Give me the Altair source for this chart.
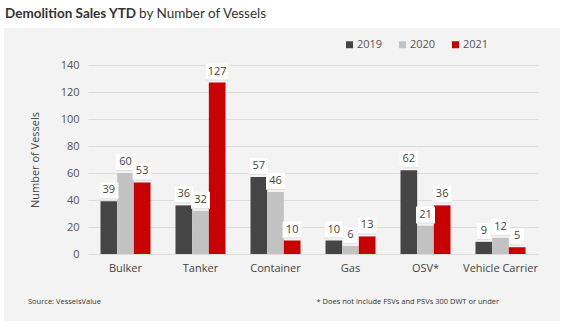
import altair as alt
import pandas as pd

categories = ["Bulker", "Tanker", "Container", "Gas", "OSV*", "Vehicle Carrier"]
years = ["2019", "2020", "2021"]
v2019 = [39, 36, 57, 10, 62, 9]
v2020 = [60, 32, 46, 6, 21, 12]
v2021 = [53, 127, 10, 13, 36, 5]
y_ticks = [0, 20, 40, 60, 80, 100, 120, 140]
colors = ["#454545", "#c2c2c2", "#c80000"]

rows = []
for yr, vals in zip(years, [v2019, v2020, v2021]):
    for c, v in zip(categories, vals):
        rows.append({"category": c, "year": yr, "value": v})
df = pd.DataFrame(rows)

FONT = "Open Sans"
W, H = 450, 189
PL, PT = 88, 65

x = alt.X("category:N", sort=categories, title=None,
          scale=alt.Scale(paddingInner=1/3, paddingOuter=1/6),
          axis=alt.Axis(labelAngle=0, ticks=False, domain=False, labelPadding=8,
                        labelFontSize=11, labelColor="#444", labelFont=FONT))
xo = alt.XOffset("year:N", sort=years, scale=alt.Scale(paddingInner=0, paddingOuter=0))
y = alt.Y("value:Q", title="Number of Vessels",
          scale=alt.Scale(domain=[0, 140], nice=False),
          axis=alt.Axis(values=y_ticks, ticks=False, domain=False, labelPadding=9,
                        labelFontSize=11, labelColor="#555", labelFont=FONT,
                        gridColor="#dcdcdc", titleFont=FONT, titleFontSize=11,
                        titleFontWeight="normal", titleColor="#444", titlePadding=20))

base = alt.Chart(df)

bars = base.mark_bar().encode(
    x=x, xOffset=xo, y=y,
    color=alt.Color("year:N", sort=years, title=None,
                    scale=alt.Scale(domain=years, range=colors),
                    legend=alt.Legend(orient="none", direction="horizontal",
                                      legendX=256, legendY=-26, symbolType="square",
                                      symbolSize=49, symbolStrokeWidth=0,
                                      labelFontSize=11, labelColor="#555", labelFont=FONT,
                                      columnPadding=14, labelOffset=2)),
)

boxes = base.transform_calculate(
    box="length(toString(datum.value)) == 1 ? 'M-7,-8H7V8H-7Z' : (length(toString(datum.value)) == 2 ? 'M-9.5,-8H9.5V8H-9.5Z' : 'M-11.5,-8H11.5V8H-11.5Z')"
)
shadow = boxes.mark_point(filled=True, size=4, opacity=1, yOffset=-10, xOffset=1,
                          color="#dedede").encode(
    x=x, xOffset=xo, y=y, shape=alt.Shape("box:N", scale=None, legend=None))
box = boxes.mark_point(filled=True, size=4, opacity=1, yOffset=-11,
                       color="white").encode(
    x=x, xOffset=xo, y=y, shape=alt.Shape("box:N", scale=None, legend=None))
labels = base.mark_text(yOffset=-11, baseline="middle", fontSize=11, color="#444",
                        font=FONT).encode(
    x=x, xOffset=xo, y=y, text="value:Q")

one = alt.Chart(pd.DataFrame({"a": [0]}))
white = "white"
strips = [
    one.mark_rect(color=white).encode(x=alt.value(-PL), x2=alt.value(565 - PL),
                                     y=alt.value(-PT), y2=alt.value(28 - PT)),
    one.mark_rect(color=white).encode(x=alt.value(-PL), x2=alt.value(4 - PL),
                                     y=alt.value(-PT), y2=alt.value(332 - PT)),
    one.mark_rect(color=white).encode(x=alt.value(560 - PL), x2=alt.value(565 - PL),
                                     y=alt.value(-PT), y2=alt.value(332 - PT)),
    one.mark_rect(color=white).encode(x=alt.value(-PL), x2=alt.value(565 - PL),
                                     y=alt.value(321 - PT), y2=alt.value(332 - PT)),
]

texts = [
    one.mark_text(text="Demolition Sales YTD", align="left", baseline="middle",
                  fontSize=13.5, fontWeight="bold", font="Lato", color="#333").encode(
        x=alt.value(5 - PL), y=alt.value(14 - PT)),
    one.mark_text(text="by Number of Vessels", align="left", baseline="middle",
                  fontSize=13.5, font="Lato", color="#333").encode(
        x=alt.value(139 - PL), y=alt.value(14 - PT)),
    one.mark_text(text="Source: VesselsValue", align="left", baseline="middle",
                  fontSize=7.5, font=FONT, color="#333").encode(
        x=alt.value(28 - PL), y=alt.value(302 - PT)),
    one.mark_text(text="* Does not include FSVs and PSVs 300 DWT or under", align="right",
                  baseline="middle", fontSize=7.5, font=FONT, color="#333").encode(
        x=alt.value(499 - PL), y=alt.value(302 - PT)),
]

chart = alt.layer(*strips, bars, shadow, box, labels, *texts).properties(
    width=W, height=H,
    autosize=alt.AutoSizeParams(type="none"),
    padding={"left": PL, "top": PT, "right": 565 - PL - W, "bottom": 332 - PT - H},
    background="#f3f3f3",
).configure_view(stroke=None)

chart.save("out.html", embed_options={"renderer": "svg", "actions": False})
